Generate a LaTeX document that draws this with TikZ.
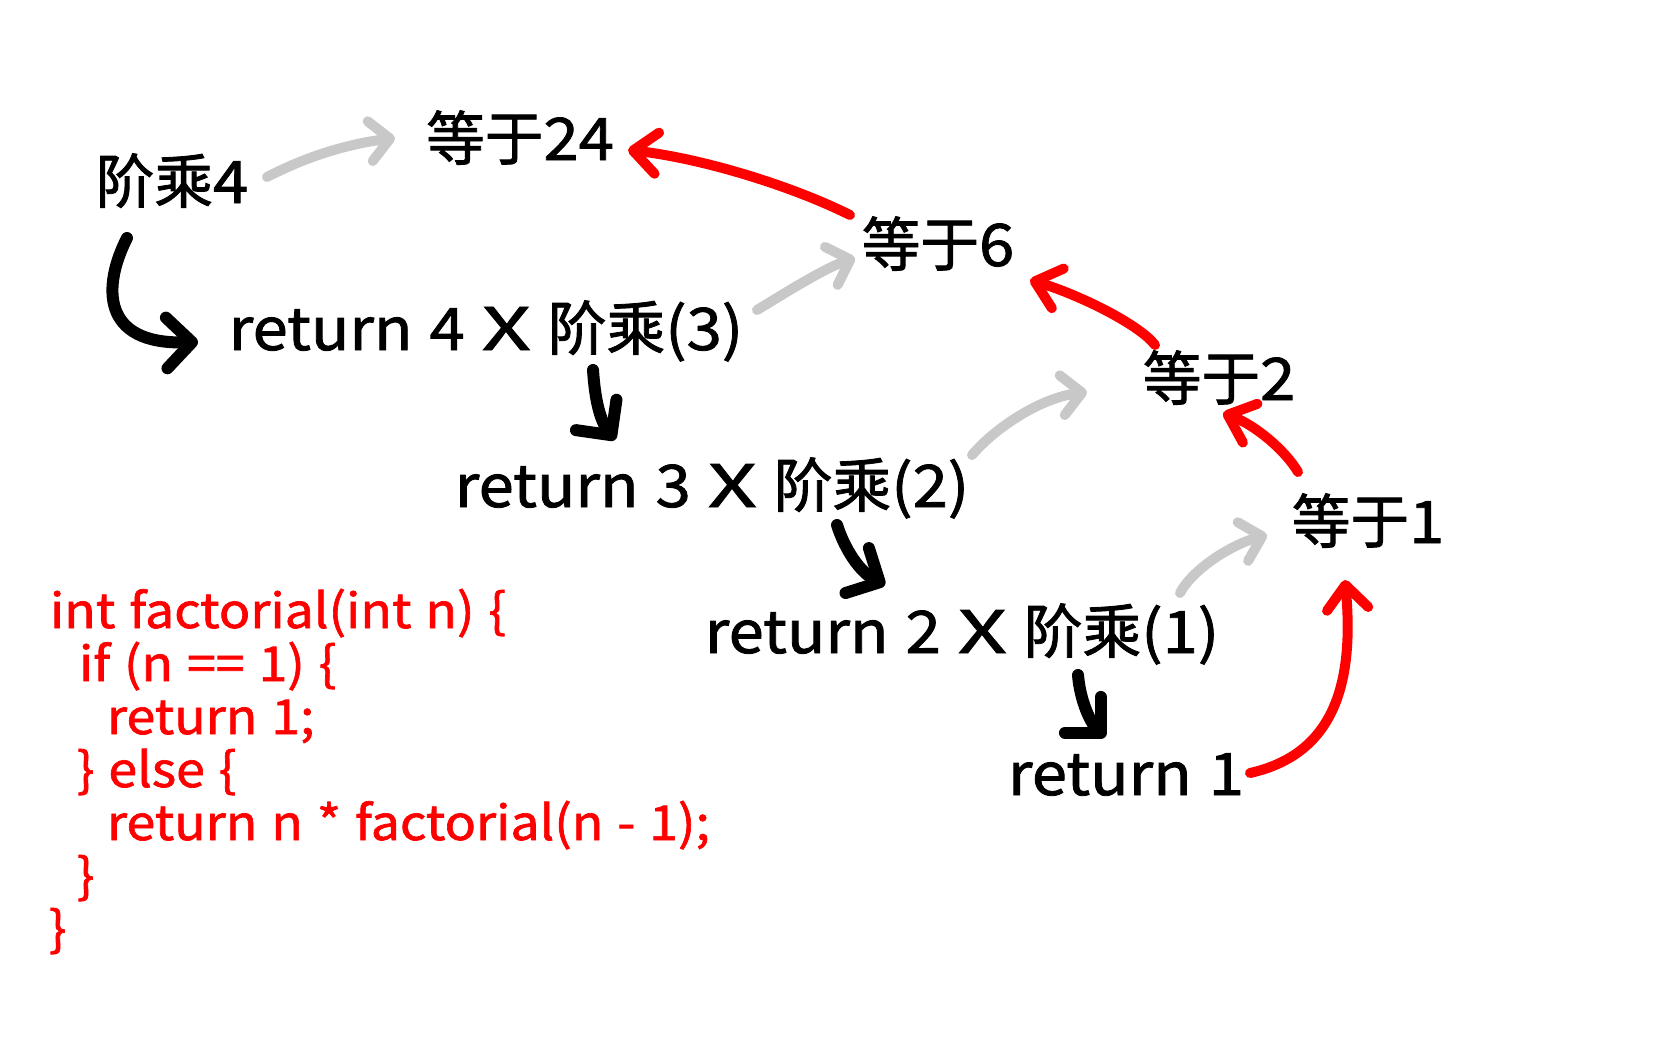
\documentclass[tikz,border=0pt]{standalone}
\usepackage{fontspec}
\usepackage{graphicx}
\setmainfont{Noto Sans CJK JP}
\newfontfamily\cj[FakeBold=1.4]{Noto Sans CJK JP}
\newfontfamily\la[FakeBold=1.4,FakeStretch=1.08,WordSpace=1.2]{Noto Sans CJK JP}
\newcommand{\bigX}{\scalebox{1.35}[1]{X}}
\usetikzlibrary{arrows.meta}
\definecolor{rd}{HTML}{FF0000}
\definecolor{gy}{HTML}{C8C8C8}
\begin{document}
\begin{tikzpicture}[x=0.75pt,y=-0.75pt,
  lbl/.style={anchor=base,inner sep=0pt,outer sep=0pt,font=\fontsize{44pt}{50pt}\la},
  codeln/.style={anchor=base west,inner sep=0pt,outer sep=0pt,text=rd,font=\fontsize{36pt}{40pt}\la},
  blk/.style={line width=9pt,line cap=round,black,-{Straight Barb[length=19pt,width=38pt,round]}},
  gry/.style={line width=7.5pt,line cap=round,gy,-{Straight Barb[length=15pt,width=30pt,round]}},
  red/.style={line width=7.5pt,line cap=round,rd,-{Straight Barb[length=18pt,width=31pt,round]}}]
\useasboundingbox (0,0) rectangle (1667,1042);
\fill[white] (0,0) rectangle (1667,1042);
% text nodes
\node[lbl] (f4) at (172,203) {{\cj 阶乘}4};
\node[lbl] (e24) at (520,160) {{\cj 等于}24};
\node[lbl] (r4) at (486,350) {return 4 \bigX{} {\cj 阶乘}(3)};
\node[lbl] (r3) at (712,507) {return 3 \bigX{} {\cj 阶乘}(2)};
\node[lbl] (r2) at (962,653) {return 2 \bigX{} {\cj 阶乘}(1)};
\node[lbl] (r1) at (1126,795) {return 1};
\node[lbl] (e6) at (938,266) {{\cj 等于}6};
\node[lbl] (e2) at (1219,400) {{\cj 等于}2};
\node[lbl] (e1) at (1368,543) {{\cj 等于}1};
% code
\node[codeln] (c1) at (50,628) {int factorial(int n) \{};
\node[codeln] (c2) at (79,681) {if (n == 1) \{};
\node[codeln] (c3) at (107,734) {return 1;};
\node[codeln] (c4) at (77,787) {\} else \{};
\node[codeln] (c5) at (107,840) {return n * factorial(n - 1);};
\node[codeln] (c6) at (77,893) {\}};
\node[codeln] (c7) at (49,946) {\}};
% gray arrows
\draw[gry] ([shift={(95,-26)}]f4.base) .. controls +(33,-17) and +(-55,7) .. ([shift={(-125,-22)}]e24.base);
\draw[gry] ([shift={(271,-40)}]r4.base) .. controls +(33,-20) and +(-30,10) .. ([shift={(-83,-8)}]e6.base);
\draw[gry] ([shift={(260,-52)}]r3.base) .. controls +(23,-27) and +(-47,6) .. ([shift={(-132,-8)}]e2.base);
\draw[gry] ([shift={(218,-60)}]r2.base) .. controls +(12,-23) and +(-37,10) .. ([shift={(-101,-8)}]e1.base);
% red arrows
\draw[red] ([shift={(-88,-51)}]e6.base) .. controls +(-60,-30) and +(72,8) .. ([shift={(108,-10)}]e24.base);
\draw[red] ([shift={(-64,-55)}]e2.base) .. controls +(-15,-20) and +(50,15) .. ([shift={(92,14)}]e6.base);
\draw[red] ([shift={(-70,-71)}]e1.base) .. controls +(-13,-22) and +(32,12) .. ([shift={(4,13)}]e2.base);
\draw[red] ([shift={(124,-22)}]r1.base) .. controls +(80,-18) and +(10,110) .. ([shift={(-23,37)}]e1.base);
% black arrows
\draw[blk] ([shift={(-45,35)}]f4.base) .. controls +(-24,47) and +(-98,3) .. ([shift={(-288,-8)}]r4.base);
\draw[blk] ([shift={(107,20)}]r4.base) .. controls +(2,30) and +(-15,-20) .. ([shift={(-97,-67)}]r3.base);
\draw[blk] ([shift={(125,18)}]r3.base) .. controls +(8,25) and +(-25,-13) .. ([shift={(-77,-68)}]r2.base);
\draw[blk] ([shift={(116,22)}]r2.base) .. controls +(2,25) and +(-15,-15) .. ([shift={(-21,-58)}]r1.base);
\end{tikzpicture}
\end{document}
